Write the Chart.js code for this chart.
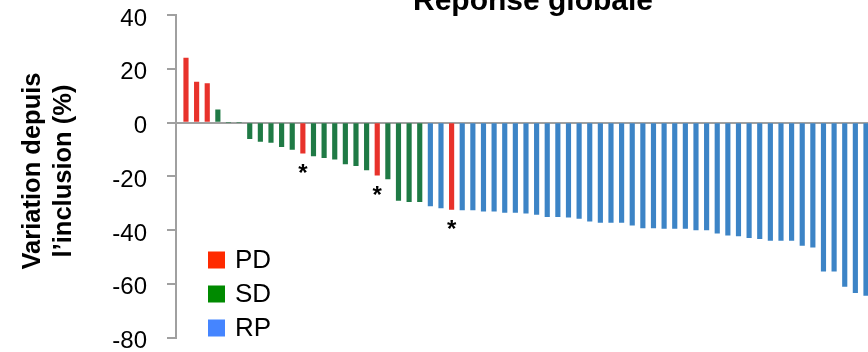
<!DOCTYPE html>
<html>
<head>
<meta charset="utf-8">
<script src="https://cdn.jsdelivr.net/npm/chart.js@4.4.1/dist/chart.umd.min.js"></script>
<style>
  html, body { margin: 0; padding: 0; background: #fff; }
  #wrap { width: 868px; height: 352px; }
</style>
</head>
<body>
<div id="wrap"><canvas id="chart"></canvas></div>
<script>
const chartTitle = 'Réponse globale';
const yTitle = ['Variation depuis', 'l’inclusion (%)'];
const yTicks = [40, 20, 0, -20, -40, -60, -80];

// change from inclusion (%), one bar per patient, sorted
const changes = [
    24, 15, 14.5, 4.7, 0, 0, -6, -7, -7.4, -9,
    -10, -11.4, -12.4, -13.1, -13.6, -15.4, -16.1, -17.6, -19.6, -21,
    -29, -29.5, -29.5, -31, -31.8, -32.3, -32.5, -32.5, -33, -33,
    -33.5, -33.5, -33.7, -34.2, -35, -35, -35.2, -35.7, -36.7, -37.2,
    -37.2, -37.2, -38.2, -39.2, -39.2, -39.4, -39.4, -39.4, -40, -40,
    -41.2, -41.9, -42.2, -42.9, -43.2, -43.9, -43.9, -43.9, -45.7, -46.4,
    -55.3, -55.3, -61, -63.3, -64.3
];

const response = [
    'PD', 'PD', 'PD', 'SD', 'SD', 'SD', 'SD', 'SD', 'SD', 'SD',
    'SD', 'PD', 'SD', 'SD', 'SD', 'SD', 'SD', 'SD', 'PD', 'SD',
    'SD', 'SD', 'SD', 'RP', 'RP', 'PD', 'RP', 'RP', 'RP', 'RP',
    'RP', 'RP', 'RP', 'RP', 'RP', 'RP', 'RP', 'RP', 'RP', 'RP',
    'RP', 'RP', 'RP', 'RP', 'RP', 'RP', 'RP', 'RP', 'RP', 'RP',
    'RP', 'RP', 'RP', 'RP', 'RP', 'RP', 'RP', 'RP', 'RP', 'RP',
    'RP', 'RP', 'RP', 'RP', 'RP'
];

const starred = [11, 18, 25];

const groups = ['PD', 'SD', 'RP'];
const barColors = { PD: '#e8322b', SD: '#1f7a45', RP: '#3c84c6' };
const legendColors = { PD: '#ff2a00', SD: '#008a00', RP: '#4585ff' };

const FONT = '"Liberation Sans", Arial, sans-serif';

const extras = {
    id: 'extras',
    afterDatasetsDraw(chart) {
        const { ctx, scales: { x, y } } = chart;
        ctx.save();
        ctx.fillStyle = '#000';

        ctx.font = 'bold 30px ' + FONT;
        ctx.textAlign = 'center';
        ctx.textBaseline = 'alphabetic';
        ctx.fillText(chartTitle, 533, 10);

        // y axis title, two rotated lines
        ctx.save();
        ctx.translate(0, 171);
        ctx.rotate(-Math.PI / 2);
        ctx.font = 'bold 25.5px ' + FONT;
        ctx.textBaseline = 'middle';
        yTitle.forEach((line, k) => ctx.fillText(line, 0, 33 + k * 31));
        ctx.restore();

        ctx.font = 'bold 24px ' + FONT;
        starred.forEach(i => {
            ctx.fillText('*', x.getPixelForValue(i), y.getPixelForValue(changes[i]) + 28);
        });

        ctx.font = '26px ' + FONT;
        ctx.textAlign = 'left';
        ctx.textBaseline = 'middle';
        groups.forEach((g, k) => {
            const cy = 260 + k * 34;
            ctx.fillStyle = legendColors[g];
            ctx.fillRect(208, cy - 8.5, 17, 17);
            ctx.fillStyle = '#000';
            ctx.fillText(g, 235, cy + 1);
        });
        ctx.restore();
    }
};

const canvas = document.getElementById('chart').getContext('2d');

const chart = new Chart(canvas, {
    type: 'bar',
    data: {
        datasets: [{
            data: changes.map((v, i) => ({ x: i, y: v })),
            backgroundColor: response.map(r => barColors[r]),
            barThickness: 4.5
        }]
    },
    options: {
        responsive: true,
        maintainAspectRatio: false,
        animation: false,
        layout: { padding: { top: 15, bottom: 14.5, left: 0, right: 0 } },
        plugins: {
            legend: { display: false },
            title: { display: false },
            tooltip: { enabled: false }
        },
        scales: {
            x: {
                type: 'linear',
                display: false,
                offset: false,
                grid: { offset: false },
                min: -0.94,
                max: 64.19
            },
            y: {
                min: -80,
                max: 40,
                afterBuildTicks: s => { s.ticks = yTicks.map(v => ({ value: v })); },
                afterFit: s => {
                    s.width = 176;
                    s.paddingTop = 0;
                    s.paddingBottom = 0;
                },
                border: { color: '#a0a0a0', width: 2 },
                grid: {
                    color: c => (c.tick && c.tick.value === 0) ? '#a0a0a0' : 'rgba(0,0,0,0)',
                    lineWidth: 2,
                    tickColor: '#a0a0a0',
                    tickWidth: 2,
                    tickLength: 9
                },
                ticks: {
                    color: '#000',
                    font: { family: FONT, size: 24 },
                    padding: 20,
                    labelOffset: 4
                },
                title: { display: false }
            }
        }
    },
    plugins: [extras]
});
</script>
</body>
</html>
